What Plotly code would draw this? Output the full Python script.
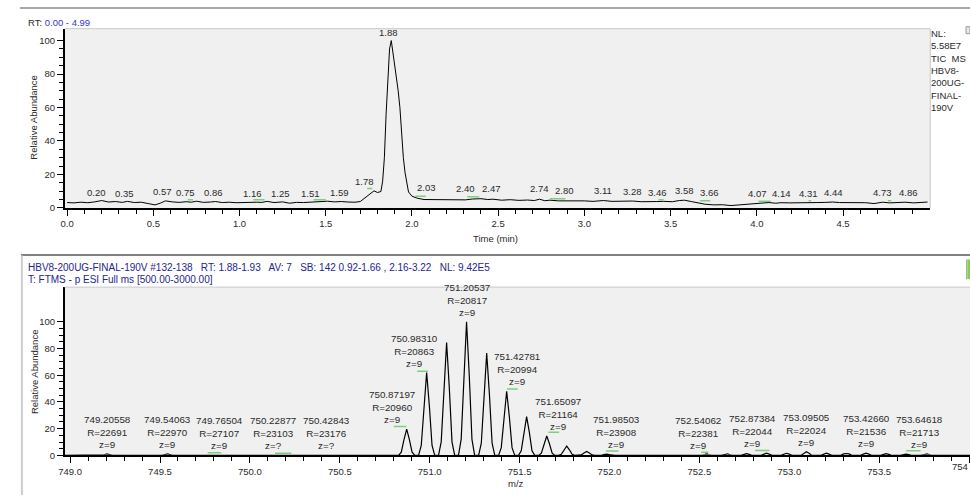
import plotly.graph_objects as go

# ---------------- data: TIC chromatogram ----------------
tic_time = [0.00, 0.04, 0.08, 0.12, 0.16, 0.20, 0.24, 0.28, 0.32, 0.35, 0.39, 0.43, 0.47, 0.51, 0.54,
            0.57, 0.61, 0.65, 0.69, 0.72, 0.75, 0.79, 0.83, 0.86, 0.90, 0.94, 0.98, 1.02, 1.06, 1.10,
            1.13, 1.16, 1.20, 1.25, 1.29, 1.33, 1.37, 1.41, 1.45, 1.48, 1.51, 1.55, 1.59, 1.63, 1.67,
            1.70, 1.73, 1.76, 1.78, 1.80, 1.82, 1.83, 1.84, 1.85, 1.86, 1.87, 1.88, 1.89, 1.90, 1.91,
            1.92, 1.93, 1.94, 1.95, 1.96, 1.97, 1.98, 2.00, 2.03, 2.07, 2.12, 2.17, 2.22, 2.27, 2.31,
            2.35, 2.40, 2.44, 2.47, 2.52, 2.57, 2.62, 2.67, 2.71, 2.74, 2.77, 2.80, 2.85, 2.90, 2.95,
            3.00, 3.05, 3.11, 3.16, 3.21, 3.25, 3.28, 3.33, 3.38, 3.42, 3.46, 3.51, 3.55, 3.58, 3.62,
            3.66, 3.70, 3.75, 3.80, 3.85, 3.90, 3.95, 4.00, 4.04, 4.07, 4.11, 4.14, 4.19, 4.24, 4.28,
            4.31, 4.35, 4.40, 4.44, 4.48, 4.53, 4.58, 4.63, 4.68, 4.73, 4.77, 4.82, 4.86, 4.91, 4.95, 4.99]
tic_abund = [3.2, 3.0, 3.4, 3.1, 3.6, 4.4, 3.5, 3.8, 3.3, 3.9, 3.2, 3.4, 2.6, 1.8, 2.8,
             4.2, 3.6, 3.3, 3.7, 3.4, 4.0, 3.3, 3.5, 3.8, 3.2, 3.4, 3.1, 3.3, 3.2, 3.4,
             3.3, 3.9, 3.2, 3.6, 2.8, 3.3, 3.2, 3.4, 3.3, 3.5, 4.0, 3.6, 3.8, 3.5, 3.4,
             3.8, 6.0, 8.4, 10.2, 9.2, 9.8, 16.0, 30.0, 56.0, 80.0, 95.0, 100.0, 93.0, 86.0, 78.0,
             70.0, 60.0, 42.0, 30.0, 21.0, 14.0, 9.5, 7.0, 5.8, 5.0, 4.9, 4.7, 4.9, 4.7, 4.8,
             5.3, 5.5, 5.0, 5.2, 4.6, 4.9, 4.5, 4.7, 4.4, 5.2, 4.3, 4.6, 4.2, 4.3, 4.0,
             4.2, 3.9, 4.4, 3.9, 4.0, 3.7, 4.1, 3.7, 3.6, 3.8, 3.9, 3.7, 4.4, 4.6, 3.8,
             2.9, 2.2, 1.8, 1.9, 1.4, 1.9, 2.1, 2.7, 3.1, 3.2, 2.8, 3.1, 3.0, 3.2, 3.1,
             3.3, 3.2, 3.3, 3.5, 3.2, 3.3, 3.2, 3.1, 2.6, 3.4, 3.0, 3.3, 3.4, 3.0, 3.2, 3.5]

tic_label_rt = [0.20, 0.35, 0.57, 0.75, 0.86, 1.16, 1.25, 1.51, 1.59, 1.78, 1.88, 2.03, 2.40, 2.47,
                2.74, 2.80, 3.11, 3.28, 3.46, 3.58, 3.66, 4.07, 4.14, 4.31, 4.44, 4.73, 4.86]
tic_label_abund = [4.3, 3.7, 4.5, 4.0, 4.0, 3.7, 3.7, 3.7, 4.3, 10.9, 100.0, 7.0, 6.6, 6.6,
                   6.6, 5.2, 5.2, 4.6, 4.0, 5.6, 4.3, 3.7, 3.7, 3.7, 4.3, 4.3, 4.3]

# green marker segments (start RT, end RT, level)
tic_mark_t0 = [0.70, 1.08, 1.43, 1.74, 2.02, 2.32, 2.80, 3.43, 3.67, 4.01, 4.30, 4.76]
tic_mark_t1 = [0.73, 1.145, 1.50, 1.77, 2.08, 2.39, 2.89, 3.46, 3.73, 4.08, 4.315, 4.78]
tic_mark_lv = [4.9, 4.9, 4.9, 11.6, 7.0, 6.7, 5.5, 4.9, 4.3, 3.9, 4.3, 4.3]

# ---------------- data: mass spectrum (profile) ----------------
ms_mz = [748.970,
         749.176, 749.191, 749.206, 749.221, 749.236,
         749.511, 749.526, 749.541, 749.556, 749.571,
         750.827, 750.842, 750.857, 750.872, 750.887, 750.902, 750.917,
         750.938, 750.953, 750.968, 750.983, 750.998, 751.013, 751.028,
         751.049, 751.064, 751.079, 751.094, 751.109, 751.124, 751.139,
         751.160, 751.175, 751.190, 751.205, 751.220, 751.235, 751.250,
         751.272, 751.287, 751.302, 751.317, 751.332, 751.347, 751.362,
         751.383, 751.398, 751.413, 751.428, 751.443, 751.458, 751.473,
         751.494, 751.509, 751.524, 751.539, 751.554, 751.569, 751.584,
         751.606, 751.621, 751.636, 751.651, 751.666, 751.681, 751.696,
         751.717, 751.732, 751.747, 751.762, 751.777, 751.792, 751.807,
         751.828, 751.843, 751.858, 751.873, 751.888, 751.903, 751.918,
         751.939, 751.954, 751.969, 751.984, 751.999, 752.014, 752.029,
         752.510, 752.525, 752.540, 752.555, 752.570,
         752.621, 752.636, 752.651, 752.666, 752.681,
         752.732, 752.747, 752.762, 752.777, 752.792,
         752.843, 752.858, 752.873, 752.888, 752.903,
         752.954, 752.969, 752.984, 752.999, 753.014,
         753.065, 753.080, 753.095, 753.110, 753.125,
         753.176, 753.191, 753.206, 753.221, 753.236,
         753.287, 753.302, 753.317, 753.332, 753.347,
         753.397, 753.412, 753.427, 753.442, 753.457,
         753.508, 753.523, 753.538, 753.553, 753.568,
         753.619, 753.634, 753.649, 753.664, 753.679,
         753.730, 753.745, 753.760, 753.775, 753.790,
         754.010]
ms_abund = [0.0,
            0.0, 0.4, 0.7, 0.4, 0.0,
            0.0, 0.4, 0.7, 0.4, 0.0,
            0.0, 2.4, 11.8, 19.6, 11.8, 2.4, 0.0,
            0.0, 7.4, 37.2, 62.0, 37.2, 7.4, 0.0,
            0.0, 10.1, 50.7, 84.5, 50.7, 10.1, 0.0,
            0.0, 12.0, 60.0, 100.0, 60.0, 12.0, 0.0,
            0.0, 9.2, 45.9, 76.5, 45.9, 9.2, 0.0,
            0.0, 5.8, 28.8, 48.0, 28.8, 5.8, 0.0,
            0.0, 3.5, 17.4, 29.0, 17.4, 3.5, 0.0,
            0.0, 1.7, 8.7, 14.5, 8.7, 1.7, 0.0,
            0.0, 0.8, 4.2, 7.0, 4.2, 0.8, 0.0,
            0.0, 0.4, 1.8, 3.0, 1.8, 0.4, 0.0,
            0.0, 0.1, 0.6, 1.0, 0.6, 0.1, 0.0,
            0.0, 0.3, 0.5, 0.3, 0.0,
            0.0, 0.4, 0.7, 0.4, 0.0,
            0.0, 0.8, 1.3, 0.8, 0.0,
            0.0, 1.0, 1.7, 1.0, 0.0,
            0.0, 1.0, 1.6, 1.0, 0.0,
            0.0, 1.6, 2.7, 1.6, 0.0,
            0.0, 1.0, 1.7, 1.0, 0.0,
            0.0, 1.1, 1.4, 1.1, 0.0,
            0.0, 1.0, 1.7, 1.0, 0.0,
            0.0, 0.8, 1.3, 0.8, 0.0,
            0.0, 0.6, 1.0, 0.6, 0.0,
            0.0, 0.4, 0.6, 0.4, 0.0,
            0.0]

ms_label_mz = [749.20558, 749.54063, 749.76504, 750.22877, 750.42843, 750.87197, 750.98310,
               751.20537, 751.42781, 751.65097, 751.98503, 752.54062, 752.87384, 753.09505,
               753.42660, 753.64618]
ms_label_abund = [0.7, 0.7, 0.3, 0.3, 0.3, 19.6, 62.0, 100.0, 48.0, 14.5, 1.0, 0.5, 1.7, 2.7, 1.7, 1.0]
ms_label_res = [22691, 22970, 27107, 23103, 23176, 20960, 20863, 20817, 20994, 21164, 23908,
                22381, 22044, 22024, 21536, 21713]
ms_label_z = ["9", "9", "9", "?", "?", "9", "9", "9", "9", "9", "9", "9", "9", "9", "9", "9"]

ms_mark_mz0 = [749.765, 750.14, 750.80, 750.93, 751.43, 751.66, 751.98, 752.51, 752.81, 753.65]
ms_mark_mz1 = [749.84, 750.23, 750.87, 750.99, 751.49, 751.72, 752.05, 752.55, 752.89, 753.73]
ms_mark_lv = [2.0, 1.7, 21.7, 63.0, 49.6, 17.3, 3.2, 2.4, 3.7, 3.5]
ms_gray_mz = [749.206, 749.541, 752.540, 752.655, 753.765]

y_ticks = [0, 20, 40, 60, 80, 100]
y_minor = [v for v in range(0, 101, 5) if v % 20]
rt_ticks = [0.0, 0.5, 1.0, 1.5, 2.0, 2.5, 3.0, 3.5, 4.0, 4.5]
mz_ticks = [749.0, 749.5, 750.0, 750.5, 751.0, 751.5, 752.0, 752.5, 753.0, 753.5, 754.0]
mz_edge_label = "754"   # last tick label, cut at the window edge

# ---------------- style / layout constants ----------------
W, H = 970, 500
FONT = "Arial, Liberation Sans, sans-serif"
TXT = "#2a2a2a"
GREEN = "#7ccf7c"

tic_label_dx = [-5, -3, -3, -11, -2, -15, -2, -17, -2, -10, -3, 9, -15, -2,
                0, 15, 0, 0, -6, 0, 11, -11, 1, -2, 1, 0, 3]
ms_label_dx = [0, 0, 12, -18, 0, -15, -12, 0, 10, 11, 10, -9, -14, 0, 0, 14]


def px(x):
    return x / W


def py(y):
    return 1 - y / H


fig = go.Figure()

fig.add_trace(go.Scatter(x=tic_time, y=tic_abund, mode="lines", line=dict(color="black", width=1),
                         xaxis="x", yaxis="y", hoverinfo="skip", showlegend=False))
gx, gy = [], []
for a, b, v in zip(tic_mark_t0, tic_mark_t1, tic_mark_lv):
    gx += [a, b, None]
    gy += [v, v, None]
fig.add_trace(go.Scatter(x=gx, y=gy, mode="lines", line=dict(color=GREEN, width=1.5),
                         xaxis="x", yaxis="y", hoverinfo="skip", showlegend=False))

fig.add_trace(go.Scatter(x=ms_mz, y=ms_abund, mode="lines", line=dict(color="black", width=1.2),
                         xaxis="x2", yaxis="y2", hoverinfo="skip", showlegend=False))
hx, hy = [], []
for a, b, v in zip(ms_mark_mz0, ms_mark_mz1, ms_mark_lv):
    hx += [a, b, None]
    hy += [v, v, None]
fig.add_trace(go.Scatter(x=hx, y=hy, mode="lines", line=dict(color=GREEN, width=1.5),
                         xaxis="x2", yaxis="y2", hoverinfo="skip", showlegend=False))
fig.add_trace(go.Scatter(x=ms_gray_mz, y=[0.6] * len(ms_gray_mz), mode="markers",
                         marker=dict(symbol="square", size=3, color="#666666"),
                         xaxis="x2", yaxis="y2", hoverinfo="skip", showlegend=False))

ann = []
for rt, ab, dx in zip(tic_label_rt, tic_label_abund, tic_label_dx):
    ann.append(dict(x=rt, y=ab, xref="x", yref="y", text=f"{rt:.2f}", showarrow=False,
                    yanchor="bottom", xanchor="center", xshift=dx, yshift=1,
                    font=dict(family=FONT, size=9.5, color=TXT)))
for mz, ab, r, z, dx in zip(ms_label_mz, ms_label_abund, ms_label_res, ms_label_z, ms_label_dx):
    ann.append(dict(x=mz, y=ab, xref="x2", yref="y2", text=f"{mz:.5f}<br>R={r}<br>z={z}",
                    showarrow=False, yanchor="bottom", xanchor="center", xshift=dx, yshift=2,
                    font=dict(family=FONT, size=9.8, color=TXT)))

# headers and titles
ann.append(dict(x=px(20), y=py(22.5), xref="paper", yref="paper", xanchor="left", yanchor="middle",
                text="RT: <span style='color:#3535c8'>0.00 - 4.99</span>", showarrow=False,
                font=dict(family=FONT, size=9.5, color=TXT)))
ann.append(dict(x=px(929), y=py(26), xref="paper", yref="paper", xanchor="left", yanchor="top",
                align="left", text="NL:<br>5.58E7<br>TIC  MS<br>HBV8-<br>200UG-<br>FINAL-<br>190V",
                showarrow=False, font=dict(family=FONT, size=9.5, color=TXT)))
ann.append(dict(x=px(20), y=py(270), xref="paper", yref="paper", xanchor="left", yanchor="middle",
                text="HBV8-200UG-FINAL-190V #132-138   RT: 1.88-1.93   AV: 7   SB: 142 0.92-1.66 , 2.16-3.22   NL: 9.42E5",
                showarrow=False, font=dict(family=FONT, size=10, color="#25258f")))
ann.append(dict(x=px(20), y=py(282), xref="paper", yref="paper", xanchor="left", yanchor="middle",
                text="T: FTMS - p ESI Full ms [500.00-3000.00]",
                showarrow=False, font=dict(family=FONT, size=10, color="#25258f")))
ann.append(dict(x=px(28), y=py(118), xref="paper", yref="paper", textangle=-90, showarrow=False,
                xanchor="center", yanchor="middle",
                text="Relative Abundance", font=dict(family=FONT, size=9.5, color=TXT)))
ann.append(dict(x=px(28), y=py(375), xref="paper", yref="paper", textangle=-90, showarrow=False,
                xanchor="center", yanchor="middle",
                text="Relative Abundance", font=dict(family=FONT, size=9.5, color=TXT)))
ann.append(dict(x=px(493), y=py(241), xref="paper", yref="paper", showarrow=False,
                xanchor="center", yanchor="middle",
                text="Time (min)", font=dict(family=FONT, size=9.5, color=TXT)))
ann.append(dict(x=px(513), y=py(488), xref="paper", yref="paper", showarrow=False,
                xanchor="center", yanchor="middle",
                text="m/z", font=dict(family=FONT, size=9.5, color=TXT)))
ann.append(dict(x=1.0, y=py(471.5), xref="paper", yref="paper", showarrow=False,
                xanchor="right", yanchor="middle",
                text=mz_edge_label, font=dict(family=FONT, size=9.5, color=TXT)))

shapes = [
    dict(type="line", xref="paper", yref="paper", x0=px(14), x1=1, y0=py(8), y1=py(8),
         line=dict(color="#8c8c8c", width=1.5)),
    dict(type="line", xref="paper", yref="paper", x0=px(15), x1=1, y0=py(257.5), y1=py(257.5),
         line=dict(color="#808080", width=2)),
    dict(type="line", xref="paper", yref="paper", x0=px(16), x1=px(16), y0=py(258), y1=0,
         line=dict(color="#cccccc", width=2)),
    # plot frame (light)
    dict(type="line", xref="paper", yref="paper", x0=px(59), x1=px(930), y0=py(29), y1=py(29),
         line=dict(color="#c8c8c8", width=1)),
    dict(type="line", xref="paper", yref="paper", x0=px(930), x1=px(930), y0=py(29), y1=py(210),
         line=dict(color="#c8c8c8", width=1)),
    dict(type="line", xref="paper", yref="paper", x0=px(59), x1=1, y0=py(290), y1=py(290),
         line=dict(color="#c8c8c8", width=1)),
    # small widgets at the right edge
    dict(type="rect", xref="paper", yref="paper", x0=px(966), x1=1, y0=py(34), y1=py(27),
         line=dict(color="#999999", width=1), fillcolor="#e8e8e8"),
    dict(type="rect", xref="paper", yref="paper", x0=px(966), x1=px(967.5), y0=py(282), y1=py(262),
         line=dict(width=0), fillcolor="#aaaaaa"),
    dict(type="rect", xref="paper", yref="paper", x0=px(967.5), x1=1, y0=py(282), y1=py(262),
         line=dict(width=0), fillcolor="#77dd33"),
]

axis_common = dict(showline=True, linecolor="black", linewidth=1.5, ticks="outside", tickwidth=1,
                   tickcolor="black", showgrid=False, zeroline=False, fixedrange=True,
                   tickfont=dict(family=FONT, size=9.5, color=TXT))

fig.update_layout(
    width=W, height=H, margin=dict(l=0, r=0, t=0, b=0),
    paper_bgcolor="white", plot_bgcolor="#f0f0f0", showlegend=False,
    xaxis=dict(domain=[px(59), px(930)], range=[-0.0144, 5.0058], anchor="y",
               tickvals=rt_ticks, ticktext=[f"{v:.1f}" for v in rt_ticks], ticklen=6,
               minor=dict(tickvals=[v / 10 for v in range(1, 50) if v % 5], ticks="outside",
                          ticklen=4, tickcolor="black"),
               **axis_common),
    yaxis=dict(domain=[py(210), py(29)], range=[0, 107.1], anchor="x",
               tickvals=y_ticks, ticklen=6,
               minor=dict(tickvals=y_minor, ticks="outside", ticklen=4, tickcolor="black"),
               **axis_common),
    xaxis2=dict(domain=[px(59), 1.0], range=[748.9696, 754.005], anchor="y2",
                tickvals=mz_ticks, ticktext=[f"{v:.1f}" for v in mz_ticks[:-1]] + [""], ticklen=6,
                minor=dict(tickvals=[749 + v / 10 for v in range(1, 50) if v % 5], ticks="outside",
                           ticklen=4, tickcolor="black"),
                **axis_common),
    yaxis2=dict(domain=[py(460), py(290)], range=[0, 125.9], anchor="x2",
                tickvals=y_ticks, ticklen=6,
                minor=dict(tickvals=y_minor, ticks="outside", ticklen=4, tickcolor="black"),
                **axis_common),
    annotations=ann, shapes=shapes,
)

fig.write_html("out.html", config={"displayModeBar": False},
               post_script="document.body.style.margin='0';document.body.style.overflow='hidden';")
